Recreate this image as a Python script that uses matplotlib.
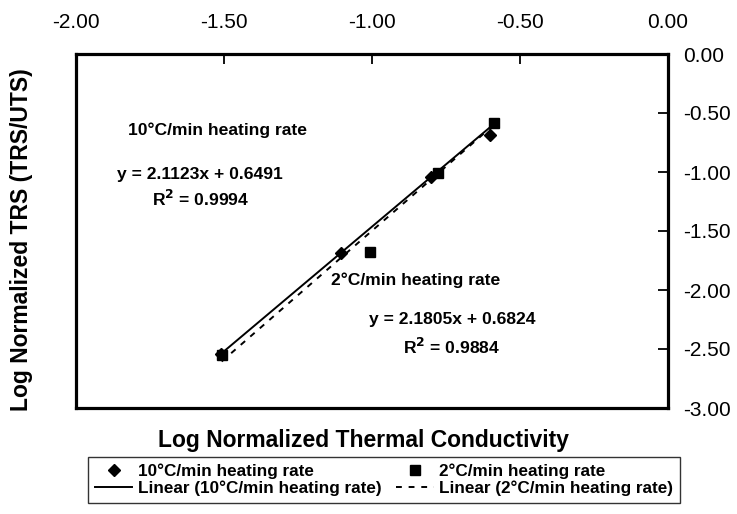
import numpy as np
import matplotlib
matplotlib.use("Agg")
import matplotlib.pyplot as plt

plt.rcParams['font.family'] = ['Liberation Sans', 'DejaVu Sans']

# data
x_10 = [-1.51, -1.105, -0.799, -0.601]
y_10 = [-2.54, -1.689, -1.045, -0.686]
x_2 = [-1.508, -1.006, -0.777, -0.589]
y_2 = [-2.55, -1.68, -1.011, -0.587]

fit_10 = (2.1123, 0.6491)
fit_2 = (2.1805, 0.6824)

label_10 = "10°C/min heating rate"
label_2 = "2°C/min heating rate"

x_ticks = [-2.0, -1.5, -1.0, -0.5, 0.0]
y_ticks = [0.0, -0.5, -1.0, -1.5, -2.0, -2.5, -3.0]

fig = plt.figure(figsize=(7.37, 5.14), dpi=100)
ax = fig.add_axes([76 / 737, 1 - 408 / 514, (668 - 76) / 737, (408 - 54) / 514])

ax.plot(x_10, y_10, 'D', color='black', markersize=6, label=label_10, zorder=3)
ax.plot(x_2, y_2, 's', color='black', markersize=7, label=label_2, zorder=3)

xs = np.array([min(x_10), max(x_10)])
ax.plot(xs, fit_10[0] * xs + fit_10[1], '-', color='black', lw=1.4,
        label="Linear (10°C/min heating rate)")
xs = np.array([min(x_2), max(x_2)])
ax.plot(xs, fit_2[0] * xs + fit_2[1], '--', color='black', lw=1.4,
        dashes=(3, 3.5), label="Linear (2°C/min heating rate)")

ax.set_xlim(-2, 0)
ax.set_ylim(-3, 0)
ax.set_xticks(x_ticks)
ax.set_yticks(y_ticks)
ax.set_xticklabels([f"{v:.2f}" for v in x_ticks])
ax.set_yticklabels([f"{v:.2f}" for v in y_ticks])
ax.xaxis.tick_top()
ax.yaxis.tick_right()
ax.tick_params(axis='x', direction='in', length=7, width=1.3, pad=16, labelsize=15)
ax.tick_params(axis='y', direction='in', length=7, width=1.3, pad=11, labelsize=15)
for s in ax.spines.values():
    s.set_linewidth(2.3)

fs = 12.6
ax.text(-1.823, -0.644, label_10, fontsize=fs, fontweight='bold', va='center', ha='left')
ax.text(-1.58, -1.025, "y = 2.1123x + 0.6491", fontsize=fs, fontweight='bold', va='center', ha='center')
ax.text(-1.58, -1.229, "R$^\\mathbf{2}$ = 0.9994", fontsize=fs, fontweight='bold', va='center', ha='center')
ax.text(-0.854, -1.915, label_2, fontsize=fs, fontweight='bold', va='center', ha='center')
ax.text(-0.728, -2.254, "y = 2.1805x + 0.6824", fontsize=fs, fontweight='bold', va='center', ha='center')
ax.text(-0.73, -2.48, "R$^\\mathbf{2}$ = 0.9884", fontsize=fs, fontweight='bold', va='center', ha='center')

fig.text(364 / 737, 1 - 440 / 514, "Log Normalized Thermal Conductivity",
         fontsize=16.5, fontweight='bold', ha='center', va='center')
fig.text(22 / 737, 1 - 240 / 514, "Log Normalized TRS (TRS/UTS)",
         fontsize=16.5, fontweight='bold', ha='center', va='center', rotation=90)

h, l = ax.get_legend_handles_labels()
order = [0, 2, 1, 3]
leg = fig.legend([h[i] for i in order], [l[i] for i in order], ncol=2,
                 loc='upper left',
                 bbox_to_anchor=(88 / 737, 1 - 505 / 514, (680 - 88) / 737, (505 - 457) / 514),
                 mode='expand', frameon=True, fancybox=False, edgecolor='black',
                 prop={'weight': 'bold', 'size': 12.3}, labelspacing=0.05, handlelength=2.2,
                 handletextpad=0.3, borderpad=0.4, borderaxespad=0)
leg.get_frame().set_linewidth(1.0)

fig.savefig("out.png", dpi=100)
